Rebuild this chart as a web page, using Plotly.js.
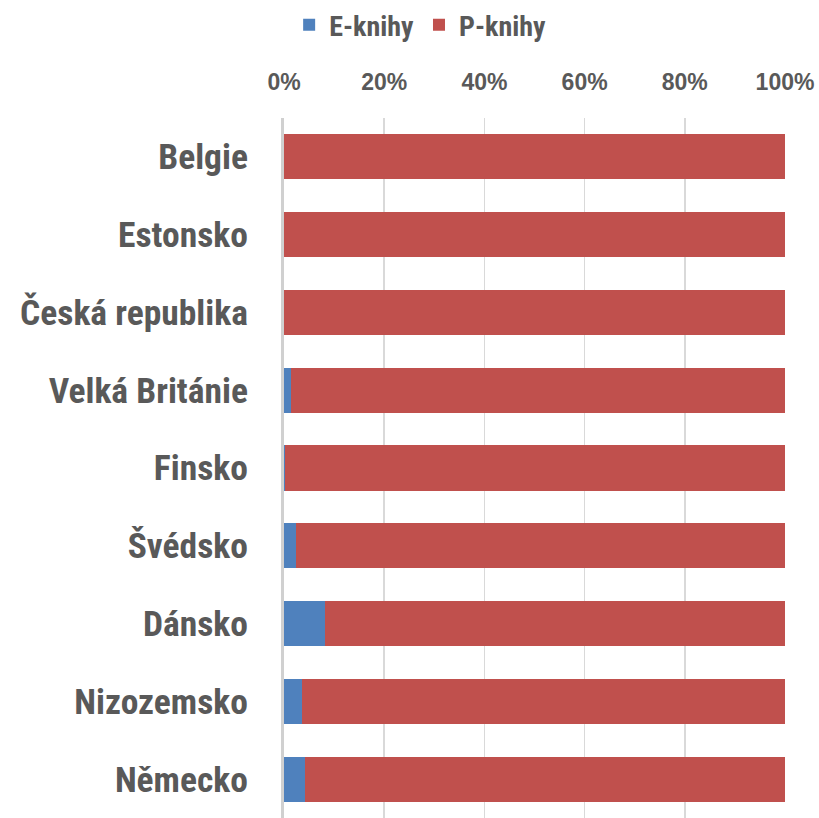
<!DOCTYPE html>
<html>
<head>
<meta charset="utf-8">
<script src="https://cdn.plot.ly/plotly-3.0.1.min.js"></script>
<style>html,body{margin:0;padding:0;background:#fff;}#chart{width:819px;height:818px;}</style>
</head>
<body>
<div id="chart"></div>
<script>
const countries = ["Belgie","Estonsko","Česká republika","Velká Británie","Finsko","Švédsko","Dánsko","Nizozemsko","Německo"];
const eKnihy = [0, 0, 0, 1.3, 0.2, 2.3, 8.2, 3.5, 4.1];
const pKnihy = eKnihy.map(v => 100 - v);
const tickVals = [0, 20, 40, 60, 80, 100];
const tickText = ["0%", "20%", "40%", "60%", "80%", "100%"];

const fontWide = "'Liberation Sans', Arial, sans-serif";
const fontNarrow = "'Roboto Condensed', 'Liberation Sans Narrow', 'Arial Narrow', sans-serif";
const grey = "#595959";

const data = [
  {type: "bar", orientation: "h", name: "E-knihy", y: countries, x: eKnihy,
   marker: {color: "#4F81BD"}, hoverinfo: "x+y"},
  {type: "bar", orientation: "h", name: "P-knihy", y: countries, x: pKnihy,
   marker: {color: "#C0504D"}, hoverinfo: "x+y"}
];

const layout = {
  width: 819, height: 818,
  barmode: "stack",
  bargap: 0.42,
  margin: {l: 284, r: 34, t: 118, b: 0, pad: 0},
  paper_bgcolor: "#fff", plot_bgcolor: "#fff",
  font: {family: fontWide, color: grey, size: 22},
  showlegend: true,
  legend: {orientation: "h", x: 0.513, xanchor: "center", xref: "container", y: 1.0, yref: "container", yanchor: "top",
           font: {family: fontNarrow, size: 28, color: grey, weight: "bold"}, itemwidth: 30, traceorder: "normal"},
  xaxis: {
    range: [0, 100], side: "top", tickvals: tickVals, ticktext: tickText,
    tickfont: {family: fontWide, size: 23, color: grey, weight: "bold"},
    showgrid: true, gridcolor: "#d9d9d9", gridwidth: 1.5,
    zeroline: false, showline: false, ticks: "", ticklabelstandoff: 22, fixedrange: true
  },
  yaxis: {
    autorange: "reversed", type: "category",
    tickfont: {family: fontNarrow, size: 35.5, color: grey, weight: "bold"},
    showgrid: false, zeroline: false, showline: true, linecolor: "#d0d0d0", linewidth: 3,
    ticks: "", ticklabelstandoff: 26, fixedrange: true
  }
};

Plotly.newPlot("chart", data, layout, {displayModeBar: false, staticPlot: true});
</script>
</body>
</html>
